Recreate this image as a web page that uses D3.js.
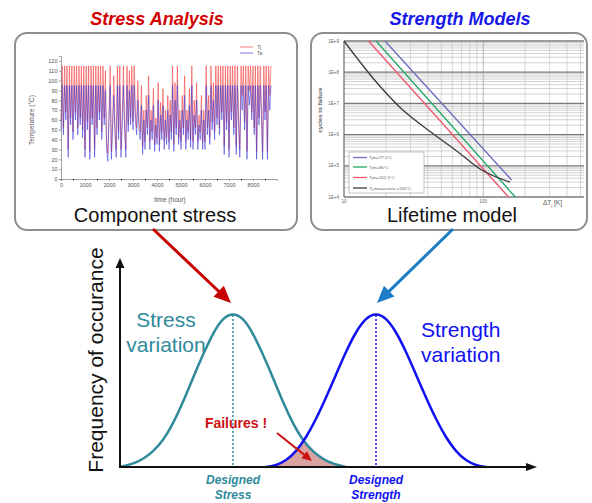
<!DOCTYPE html>
<html>
<head>
<meta charset="UTF-8" />
<title>Stress / strength interference</title>
<style>
  body { margin: 0; background: #fff; font-family: "Liberation Sans", Arial, sans-serif; }
  svg { display: block; }
</style>
<script src="https://d3js.org/d3.v7.min.js"></script>
</head>
<body>
<script>
  /* ---------- data: mission profile (left inset) ---------- */
  let hours = d3.range(0, 8800, 50); // one sample every 50 h
  let ambientTemp = [
    50, 95, 45, 95, 60, 95, 22, 95, 55, 95,
    40, 95, 60, 95, 45, 95, 55, 95, 42, 95,
    22, 95, 50, 95, 20, 95, 55, 95, 22, 95,
    45, 95, 60, 95, 40, 95, 55, 90, 30, 18,
    60, 95, 20, 50, 85, 45, 22, 95, 40, 95,
    22, 55, 95, 50, 22, 95, 48, 90, 55, 95,
    50, 95, 60, 45, 80, 50, 40, 75, 25, 60,
    30, 70, 45, 85, 30, 60, 40, 75, 28, 55,
    35, 80, 28, 65, 40, 75, 30, 60, 35, 70,
    30, 65, 40, 95, 28, 80, 45, 95, 35, 60,
    30, 70, 45, 85, 30, 60, 40, 75, 32, 95,
    30, 65, 45, 80, 30, 55, 40, 70, 30, 60,
    30, 95, 45, 70, 35, 95, 50, 80, 40, 95,
    55, 95, 45, 95, 60, 95, 25, 95, 50, 95,
    22, 95, 60, 95, 45, 95, 25, 95, 55, 22,
    95, 70, 95, 50, 95, 20, 95, 75, 95, 60,
    95, 45, 95, 20, 95, 55, 95, 65, 20, 95,
    60, 95, 20, 95, 70, 95
  ];
  let junctionTemp = [
    58, 115, 52, 115, 68, 115, 30, 115, 62, 115,
    48, 115, 68, 115, 52, 115, 62, 115, 50, 115,
    30, 115, 58, 115, 28, 115, 62, 115, 30, 115,
    52, 115, 68, 115, 48, 115, 62, 110, 38, 26,
    68, 115, 28, 58, 105, 52, 30, 115, 48, 115,
    30, 62, 115, 58, 30, 115, 55, 110, 62, 115,
    58, 115, 68, 52, 100, 58, 48, 95, 33, 70,
    38, 85, 52, 105, 38, 70, 48, 92, 35, 62,
    42, 98, 35, 78, 48, 92, 38, 70, 42, 85,
    38, 80, 48, 115, 35, 98, 52, 115, 42, 70,
    38, 85, 52, 105, 38, 70, 48, 92, 40, 115,
    38, 80, 52, 98, 38, 65, 48, 85, 38, 70,
    38, 115, 52, 85, 42, 115, 58, 98, 48, 115,
    62, 115, 52, 115, 68, 115, 33, 115, 58, 115,
    30, 115, 68, 115, 52, 115, 33, 115, 62, 30,
    115, 85, 115, 58, 115, 28, 115, 90, 115, 68,
    115, 52, 115, 28, 115, 62, 115, 78, 28, 115,
    68, 115, 28, 115, 85, 115
  ];
  let tempTicks = [0, 10, 20, 30, 40, 50, 60, 70, 80, 90, 100, 110, 120];
  let hourTicks = [0, 1000, 2000, 3000, 4000, 5000, 6000, 7000, 8000];

  /* ---------- data: lifetime model (right inset) ---------- */
  let modelNames = ["Tjm=77,5°C", "Tjm=90°C", "Tjm=102,5°C", "Tj,max=const.=150°C"];
  let modelDeltaT = [
    [19.7, 160],
    [17, 170],
    [15, 152],
    [10, 17.3, 25.3, 43.7, 68.4, 95, 156]
  ];
  let modelCycles = [
    [1e9, 3.5e4],
    [1e9, 1e4],
    [1e9, 1e4],
    [1e9, 4.5e7, 7.4e6, 1.07e6, 2.45e5, 7.9e4, 3.0e4]
  ];
  let cycleTicks = [1e4, 1e5, 1e6, 1e7, 1e8, 1e9];
  let deltaTTicks = [10, 100];

  /* ---------- data: stress / strength distributions ---------- */
  let stressX = [0, 13, 23, 33, 43, 53, 63, 73, 83, 93, 103, 113, 123, 133, 143, 153, 163, 173, 183, 193, 203, 213, 226];
  let stressF = [0, 0.02, 0.05, 0.1, 0.17, 0.28, 0.42, 0.58, 0.73, 0.87, 0.97, 1, 0.97, 0.87, 0.73, 0.58, 0.42, 0.28, 0.17, 0.1, 0.05, 0.02, 0];
  let strengthX = [146, 156, 166, 176, 186, 196, 206, 216, 226, 236, 246, 256, 266, 276, 286, 296, 306, 316, 326, 336, 346, 356, 366];
  let strengthF = [0, 0.01, 0.04, 0.1, 0.19, 0.31, 0.45, 0.6, 0.75, 0.88, 0.97, 1, 0.97, 0.88, 0.75, 0.6, 0.45, 0.31, 0.19, 0.1, 0.04, 0.01, 0];
  let designedStress = 113;
  let designedStrength = 256;

  /* colours */
  let stressRed = "#d40000";
  let strengthBlue = "#1717ea";
  let teal = "#2f8a9b";
  let curveBlue = "#1010f0";
  let modelColors = ["#6b6bbd", "#22a866", "#f0566a", "#3a3a3a"];

  let svg = d3.select("body").append("svg")
    .attr("width", 592)
    .attr("height", 503);

  function arrow(x1, y1, x2, y2, color, width, headLen, headW) {
    let a = Math.atan2(y2 - y1, x2 - x1);
    let bx = x2 - headLen * Math.cos(a), by = y2 - headLen * Math.sin(a);
    svg.append("line")
      .attr("x1", x1).attr("y1", y1).attr("x2", bx + Math.cos(a)).attr("y2", by + Math.sin(a))
      .attr("stroke", color).attr("stroke-width", width);
    let px = -Math.sin(a) * headW / 2, py = Math.cos(a) * headW / 2;
    svg.append("path")
      .attr("d", `M${x2},${y2}L${bx + px},${by + py}L${bx - px},${by - py}Z`)
      .attr("fill", color);
  }

  /* ---------- titles and boxes ---------- */
  svg.append("text")
    .attr("x", 157).attr("y", 25)
    .attr("text-anchor", "middle")
    .style("font", "italic bold 18px 'Liberation Sans'")
    .attr("fill", stressRed)
    .text("Stress Analysis");
  svg.append("text")
    .attr("x", 460).attr("y", 25)
    .attr("text-anchor", "middle")
    .style("font", "italic bold 18px 'Liberation Sans'")
    .attr("fill", strengthBlue)
    .text("Strength Models");

  [[15, 33, 282, 197], [311, 33, 276, 197]].forEach(b => {
    svg.append("rect")
      .attr("x", b[0]).attr("y", b[1]).attr("width", b[2]).attr("height", b[3])
      .attr("rx", 12)
      .attr("fill", "#fff")
      .attr("stroke", "#8e8e8e")
      .attr("stroke-width", 2);
  });

  /* ---------- left inset: temperature profile ---------- */
  let lx = d3.scaleLinear().domain([0, 9000]).range([61, 277]);
  let ly = d3.scaleLinear().domain([0, 125]).range([179, 56]);
  let left = svg.append("g");

  let profileLine = d3.line()
    .x((d, i) => lx(hours[i]))
    .y(d => ly(d));

  left.append("path")
    .datum(junctionTemp)
    .attr("d", profileLine)
    .attr("fill", "none")
    .attr("stroke", "#f23a3a")
    .attr("stroke-opacity", 0.7)
    .attr("stroke-width", 0.8);
  left.append("path")
    .datum(ambientTemp)
    .attr("d", profileLine)
    .attr("fill", "none")
    .attr("stroke", "#2f2fd8")
    .attr("stroke-opacity", 0.65)
    .attr("stroke-width", 0.8);

  let lyAxis = left.append("g")
    .attr("transform", "translate(61,0)")
    .call(d3.axisLeft(ly).tickValues(tempTicks).tickSize(2).tickPadding(1.5));
  let lxAxis = left.append("g")
    .attr("transform", "translate(0,179)")
    .call(d3.axisBottom(lx).tickValues(hourTicks).tickFormat(d3.format("d")).tickSize(2).tickPadding(2));
  left.append("g")
    .attr("transform", "translate(0,179)")
    .call(d3.axisBottom(lx).tickValues(hourTicks.map(h => h + 500)).tickSize(1.2).tickFormat(""))
    .select(".domain").remove();
  [lyAxis, lxAxis].forEach(ax => {
    ax.selectAll("text").style("font-size", "5.5px").attr("fill", "#555");
    ax.selectAll("line, path").attr("stroke", "#666").attr("stroke-width", 0.6);
  });

  left.append("text")
    .attr("transform", "translate(34,120) rotate(-90)")
    .attr("text-anchor", "middle")
    .style("font-size", "6.5px")
    .attr("fill", "#555")
    .text("Temperature (°C)");
  left.append("text")
    .attr("x", 170).attr("y", 202)
    .attr("text-anchor", "middle")
    .style("font-size", "6.5px")
    .attr("fill", "#555")
    .text("time (hour)");

  [["Tj", "#f25a5a", 47], ["Ta", "#5a5ae0", 53]].forEach(l => {
    left.append("line")
      .attr("x1", 240).attr("x2", 253).attr("y1", l[2]).attr("y2", l[2])
      .attr("stroke", l[1]).attr("stroke-width", 0.8);
    left.append("text")
      .attr("x", 257).attr("y", l[2] + 1.8)
      .style("font-size", "5px")
      .attr("fill", "#666")
      .text(l[0]);
  });

  svg.append("text")
    .attr("x", 155).attr("y", 222)
    .attr("text-anchor", "middle")
    .style("font-size", "20px")
    .attr("fill", "#111")
    .text("Component stress");

  /* ---------- right inset: lifetime model ---------- */
  let rx = d3.scaleLog().domain([10, 530]).range([344, 584]);
  let ry = d3.scaleLog().domain([1e4, 1e9]).range([197, 41]);
  let right = svg.append("g");

  // horizontal grid
  for (let e = 4; e < 9; e++) {
    for (let m = 2; m <= 9; m++) {
      let v = m * Math.pow(10, e);
      right.append("line")
        .attr("x1", 344).attr("x2", 584).attr("y1", ry(v)).attr("y2", ry(v))
        .attr("stroke", "#b4b4b4").attr("stroke-width", 0.6);
    }
  }
  // vertical grid
  [20, 30, 40, 50, 60, 70, 80, 90, 200, 300, 400, 500].forEach(v => {
    right.append("line")
      .attr("x1", rx(v)).attr("x2", rx(v)).attr("y1", 41).attr("y2", 197)
      .attr("stroke", "#bdbdbd").attr("stroke-width", 0.6);
  });
  cycleTicks.forEach(v => {
    right.append("line")
      .attr("x1", 344).attr("x2", 584).attr("y1", ry(v)).attr("y2", ry(v))
      .attr("stroke", "#7a7a7a").attr("stroke-width", 1.3);
    right.append("text")
      .attr("x", 339).attr("y", ry(v) + 1.6)
      .attr("text-anchor", "end")
      .style("font-size", "4.6px")
      .attr("fill", "#666")
      .text("1E+" + Math.round(Math.log10(v)));
  });
  deltaTTicks.forEach(v => {
    right.append("line")
      .attr("x1", rx(v)).attr("x2", rx(v)).attr("y1", 41).attr("y2", 197)
      .attr("stroke", "#999").attr("stroke-width", 0.7);
    right.append("text")
      .attr("x", rx(v)).attr("y", 203)
      .attr("text-anchor", "middle")
      .style("font-size", "4.6px")
      .attr("fill", "#666")
      .text(v);
  });
  right.append("line")
    .attr("x1", 344).attr("x2", 344).attr("y1", 41).attr("y2", 197)
    .attr("stroke", "#555").attr("stroke-width", 0.8);

  let lifeLine = d3.line()
    .x(d => rx(d[0]))
    .y(d => ry(d[1]))
    .curve(d3.curveMonotoneX);
  modelNames.forEach((name, i) => {
    let pts = modelDeltaT[i].map((t, j) => [t, modelCycles[i][j]]);
    right.append("path")
      .datum(pts)
      .attr("d", lifeLine)
      .attr("fill", "none")
      .attr("stroke", modelColors[i])
      .attr("stroke-width", 1.3);
  });

  // legend
  right.append("rect")
    .attr("x", 349).attr("y", 152).attr("width", 75).attr("height", 41)
    .attr("fill", "#fff").attr("stroke", "#999").attr("stroke-width", 0.6);
  let legendRows = [157.5, 167, 177.5, 188];
  modelNames.forEach((name, i) => {
    right.append("line")
      .attr("x1", 353).attr("x2", 367).attr("y1", legendRows[i]).attr("y2", legendRows[i])
      .attr("stroke", modelColors[i]).attr("stroke-width", 1.3);
    right.append("text")
      .attr("x", 369).attr("y", legendRows[i] + 1.5)
      .style("font-size", "4.4px")
      .attr("fill", "#666")
      .text(name);
  });

  right.append("text")
    .attr("transform", "translate(322,110) rotate(-90)")
    .attr("text-anchor", "middle")
    .style("font-size", "6px")
    .style("font-weight", "bold")
    .attr("fill", "#666")
    .text("cycles to failure");
  let dtLabel = right.append("text")
    .attr("x", 543).attr("y", 205)
    .style("font-size", "6.5px")
    .attr("fill", "#555");
  dtLabel.append("tspan").text("ΔT");
  dtLabel.append("tspan").attr("dy", 1.5).style("font-size", "4px").text("j");
  dtLabel.append("tspan").attr("dy", -1.5).text("  [K]");

  svg.append("text")
    .attr("x", 452).attr("y", 222)
    .attr("text-anchor", "middle")
    .style("font-size", "20px")
    .attr("fill", "#111")
    .text("Lifetime model");

  /* ---------- stress / strength interference ---------- */
  let bx = d3.scaleLinear().domain([0, 415]).range([120, 535]);
  let by = d3.scaleLinear().domain([0, 1]).range([467, 313]);

  let stressPts = stressX.map((x, i) => [x, stressF[i]]);
  let strengthPts = strengthX.map((x, i) => [x, strengthF[i]]);

  let curve = d3.line().x(d => bx(d[0])).y(d => by(d[1])).curve(d3.curveBasis);
  let area = d3.area().x(d => bx(d[0])).y0(by(0)).y1(d => by(d[1])).curve(d3.curveBasis);

  svg.append("clipPath")
    .attr("id", "under-strength")
    .append("path")
    .attr("d", area(strengthPts));
  svg.append("path")
    .attr("d", area(stressPts))
    .attr("clip-path", "url(#under-strength)")
    .attr("fill", "#d9a3a1");

  svg.append("path")
    .attr("d", curve(stressPts))
    .attr("fill", "none")
    .attr("stroke", teal)
    .attr("stroke-width", 2.5);
  svg.append("path")
    .attr("d", curve(strengthPts))
    .attr("fill", "none")
    .attr("stroke", curveBlue)
    .attr("stroke-width", 2.5);

  [[designedStress, teal], [designedStrength, curveBlue]].forEach(d => {
    svg.append("line")
      .attr("x1", bx(d[0])).attr("x2", bx(d[0]))
      .attr("y1", by(1) + 2).attr("y2", by(0))
      .attr("stroke", d[1])
      .attr("stroke-width", 1.5)
      .attr("stroke-dasharray", "2,2");
  });

  // axes
  arrow(120, 468, 120, 258, "#111", 2, 10, 9);
  arrow(119, 467, 537, 467, "#111", 2, 11, 8);

  svg.append("text")
    .attr("transform", "translate(103,360) rotate(-90)")
    .attr("text-anchor", "middle")
    .style("font-size", "21px")
    .attr("fill", "#111")
    .text("Frequency of occurance");

  let stressLabel = svg.append("text")
    .attr("text-anchor", "middle")
    .style("font-size", "21px")
    .attr("fill", teal);
  stressLabel.append("tspan").attr("x", 166).attr("y", 327).text("Stress");
  stressLabel.append("tspan").attr("x", 166).attr("y", 352).text("variation");

  let strengthLabel = svg.append("text")
    .style("font-size", "21px")
    .attr("fill", curveBlue);
  strengthLabel.append("tspan").attr("x", 421).attr("y", 337).text("Strength");
  strengthLabel.append("tspan").attr("x", 421).attr("y", 362).text("variation");

  [[designedStress, teal, "Stress"], [designedStrength, curveBlue, "Strength"]].forEach(d => {
    let t = svg.append("text")
      .attr("text-anchor", "middle")
      .style("font", "italic bold 12px 'Liberation Sans'")
      .attr("fill", d[1]);
    t.append("tspan").attr("x", bx(d[0])).attr("y", 484).text("Designed");
    t.append("tspan").attr("x", bx(d[0])).attr("y", 499).text(d[2]);
  });

  svg.append("text")
    .attr("x", 236).attr("y", 428)
    .attr("text-anchor", "middle")
    .style("font", "bold 14px 'Liberation Sans'")
    .attr("fill", "#cc1111")
    .text("Failures !");
  arrow(277, 433, 312, 461, "#cc1111", 2, 10, 9);

  // links from the insets to the distributions
  arrow(153, 229, bx(designedStress) - 2, by(1) - 10, "#c40000", 3, 17, 15);
  arrow(453, 229, bx(designedStrength) + 1, by(1) - 10, "#1c7cc4", 3, 17, 15);
</script>
</body>
</html>
